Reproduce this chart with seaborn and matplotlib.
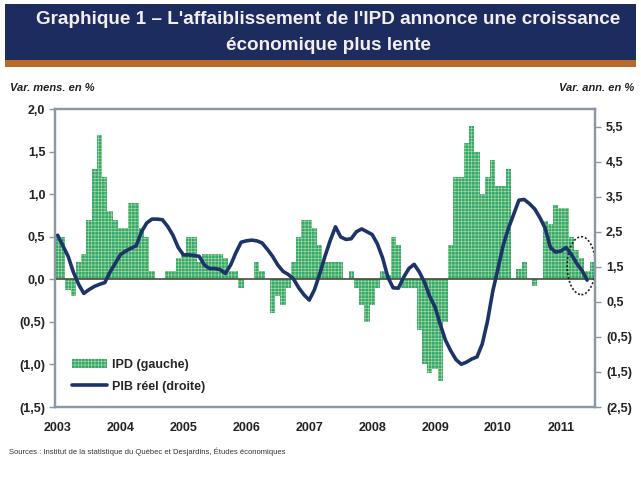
import numpy as np
import pandas as pd
import seaborn as sns
import matplotlib.pyplot as plt
from matplotlib.patches import Rectangle, Ellipse, Patch
from matplotlib.lines import Line2D
from matplotlib.ticker import FuncFormatter, FixedLocator

# IPD : variation mensuelle en % (janv. 2003 - juil. 2011)
ipd = [0.5, 0.5, -0.12, -0.2, 0.2, 0.3, 0.7, 1.3, 1.7, 1.2, 0.8, 0.7,
       0.6, 0.6, 0.9, 0.9, 0.6, 0.5, 0.1, 0.0, 0.0, 0.1, 0.1, 0.25,
       0.3, 0.5, 0.5, 0.2, 0.3, 0.3, 0.3, 0.3, 0.25, 0.1, 0.1, -0.1,
       0.0, 0.0, 0.2, 0.1, 0.0, -0.4, -0.2, -0.3, -0.1, 0.2, 0.5, 0.7,
       0.7, 0.6, 0.4, 0.2, 0.2, 0.2, 0.2, 0.0, 0.1, -0.1, -0.3, -0.5,
       -0.3, -0.1, 0.1, 0.05, 0.5, 0.4, -0.1, -0.1, -0.1, -0.6, -1.0, -1.1,
       -1.05, -1.2, -0.5, 0.4, 1.2, 1.2, 1.6, 1.8, 1.5, 1.0, 1.2, 1.4,
       1.1, 1.1, 1.3, 0.0, 0.12, 0.2, 0.0, -0.08, 0.0, 0.68, 0.65, 0.87,
       0.84, 0.84, 0.5, 0.35, 0.25, 0.1, 0.2]

# PIB réel : variation annuelle en %
pib = [2.4, 2.1, 1.8, 1.35, 1.0, 0.74, 0.85, 0.94, 1.0, 1.05, 1.35, 1.6,
       1.85, 1.95, 2.03, 2.1, 2.5, 2.75, 2.86, 2.86, 2.84, 2.65, 2.4, 2.05,
       1.84, 1.84, 1.82, 1.8, 1.55, 1.45, 1.45, 1.42, 1.31, 1.55, 1.9, 2.2,
       2.24, 2.26, 2.24, 2.18, 2.0, 1.8, 1.55, 1.37, 1.28, 1.15, 0.9, 0.7,
       0.55, 0.85, 1.3, 1.8, 2.25, 2.64, 2.35, 2.28, 2.3, 2.5, 2.58, 2.5,
       2.42, 2.15, 1.75, 1.2, 0.9, 0.89, 1.2, 1.45, 1.57, 1.35, 1.05, 0.65,
       0.35, -0.15, -0.6, -0.9, -1.15, -1.28, -1.22, -1.13, -1.07, -0.7, -0.05, 0.8,
       1.45, 2.12, 2.6, 3.0, 3.4, 3.42, 3.3, 3.15, 2.9, 2.6, 2.05, 1.92,
       1.95, 2.05, 1.85, 1.6, 1.4, 1.12, np.nan]

years = ['2003', '2004', '2005', '2006', '2007', '2008', '2009', '2010', '2011']
left_ticks = [-1.5, -1.0, -0.5, 0.0, 0.5, 1.0, 1.5, 2.0]
right_ticks = [-2.5, -1.5, -0.5, 0.5, 1.5, 2.5, 3.5, 4.5, 5.5]

df = pd.DataFrame({'mois': range(len(ipd)), 'ipd': ipd, 'pib': pib})

green = '#33a870'
hatch_col = '#a9d89a'
navy = '#1c3468'
frame = '#8c97a6'

sns.set_theme(style='white')
plt.rcParams['font.family'] = ['Liberation Sans', 'DejaVu Sans']
plt.rcParams['font.weight'] = 'bold'
plt.rcParams['hatch.linewidth'] = 0.45

fig = plt.figure(figsize=(6.41, 4.83), dpi=100)

# bandeau du titre
fig.patches.append(Rectangle((0.008, 0.874), 0.984, 0.118, transform=fig.transFigure,
                             facecolor='#1d2c5e', edgecolor='none'))
fig.patches.append(Rectangle((0.008, 0.862), 0.984, 0.013, transform=fig.transFigure,
                             facecolor='#b86a2a', edgecolor='none'))
fig.text(0.512, 1 - 20 / 483, "Graphique 1 – L'affaiblissement de l'IPD annonce une croissance",
         ha='center', va='center', color='#f4eef0', fontsize=13.6, fontweight='bold')
fig.text(0.512, 1 - 45 / 483, "économique plus lente",
         ha='center', va='center', color='#f4eef0', fontsize=13.6, fontweight='bold')

ax = fig.add_axes([0.0858, 0.1573, 0.8424, 0.617])
sns.barplot(data=df, x='mois', y='ipd', ax=ax, color=green, saturation=1, width=1,
            linewidth=0, edgecolor=hatch_col, hatch='+++++')
ax.axhline(0, color='#4a4a3a', lw=1.2, zorder=3)

ax2 = ax.twinx()
sns.lineplot(data=df, x='mois', y='pib', ax=ax2, color=navy, lw=2.6)

ax.set_xlim(-0.5, len(ipd) - 0.5)
ax.set_ylim(-1.5, 2.0)
ax2.set_ylim(-2.5, 6.0)

ax.xaxis.set_major_locator(FixedLocator([12 * i for i in range(len(years))]))
ax.set_xticklabels(years)
ax.tick_params(axis='x', length=0, pad=11, labelsize=9, colors='#222222')

def fmt_pct(v, pos):
    s = f'{abs(v):.1f}'.replace('.', ',')
    return f'({s})' if v < 0 else s

ax.yaxis.set_major_locator(FixedLocator(left_ticks))
ax.yaxis.set_major_formatter(FuncFormatter(fmt_pct))
ax2.yaxis.set_major_locator(FixedLocator(right_ticks))
ax2.yaxis.set_major_formatter(FuncFormatter(fmt_pct))
ax.tick_params(axis='y', left=True, direction='out', length=4, width=1, color=frame,
               labelsize=9, pad=3, colors='#222222')
ax2.tick_params(axis='y', right=True, direction='out', length=4, width=1, color=frame,
                labelsize=9, pad=4, colors='#222222')
ax.set_xlabel('')
ax.set_ylabel('')
ax2.set_ylabel('')

for a in (ax, ax2):
    for sp in a.spines.values():
        sp.set_visible(True)
        sp.set_color(frame)
        sp.set_linewidth(1.6)

# cercle pointillé autour des derniers mois
ax.add_patch(Ellipse((99.9, 0.16), 5.4, 0.68, fill=False, ls=(0, (1.2, 1.2)),
                     lw=1.2, edgecolor='#222222', zorder=5))

handles = [Patch(facecolor=green, edgecolor=hatch_col, hatch='+++++', lw=0),
           Line2D([], [], color=navy, lw=2.6)]
ax2.legend(handles, ['IPD (gauche)', 'PIB réel (droite)'], loc='lower left',
           bbox_to_anchor=(0.01, 0.01), frameon=False, fontsize=9,
           handlelength=2.8, labelspacing=0.8, handletextpad=0.4)

fig.text(0.016, 1 - 88 / 483, 'Var. mens. en %', fontsize=8, style='italic',
         fontweight='bold', va='center', color='#222222')
fig.text(0.99, 1 - 88 / 483, 'Var. ann. en %', fontsize=8, style='italic',
         fontweight='bold', va='center', ha='right', color='#222222')
fig.text(0.014, 1 - 452 / 483,
         'Sources : Institut de la statistique du Québec et Desjardins, Études économiques',
         fontsize=5.5, fontweight='normal', va='center', color='#333333')

plt.savefig('out.png', dpi=100)
